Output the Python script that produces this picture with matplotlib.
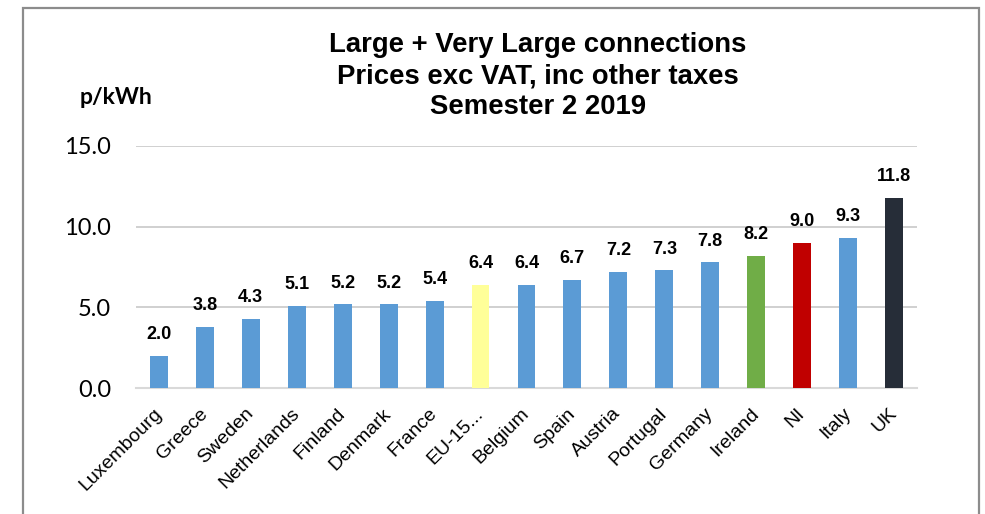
import matplotlib.pyplot as plt
from matplotlib.patches import Rectangle
from matplotlib.transforms import ScaledTranslation, blended_transform_factory

countries = ["Luxembourg", "Greece", "Sweden", "Netherlands", "Finland", "Denmark",
             "France", "EU-15...", "Belgium", "Spain", "Austria", "Portugal",
             "Germany", "Ireland", "NI", "Italy", "UK"]
prices = [2.0, 3.8, 4.3, 5.1, 5.2, 5.2, 5.4, 6.4, 6.4, 6.7, 7.2, 7.3, 7.8, 8.2, 9.0, 9.3, 11.8]
yticks = [0, 5, 10, 15]

blue = "#5B9BD5"
highlight = {"EU-15...": "#FFFF99", "Ireland": "#70AD47", "NI": "#C00000", "UK": "#262D38"}
colors = [highlight.get(c, blue) for c in countries]

fig = plt.figure(figsize=(9.85, 5.14), dpi=100)
ax = fig.add_axes([0.138, 0.245, 0.793, 0.471])

x = range(len(countries))
ax.bar(x, prices, width=0.39, color=colors, zorder=3)

for xi, v in zip(x, prices):
    ax.annotate(f"{v:.1f}", (xi, v), xytext=(0, 9), textcoords="offset points",
                ha="center", va="bottom", fontsize=13, fontweight="bold",
                family="Liberation Sans")

ax.set_ylim(0, 15)
ax.set_yticks(yticks)
ax.set_yticklabels([f"{t:.1f}" for t in yticks], family="Lato", fontsize=17)
ax.set_xlim(-0.5, len(countries) - 0.5)
ax.set_xticks(list(x))
ax.set_xticklabels([])

# country names, rotated, placed just under each bar
lbl_tr = blended_transform_factory(ax.transData, ax.transAxes) + \
    ScaledTranslation(-6 / 100, -17 / 100, fig.dpi_scale_trans)
for xi, name in zip(x, countries):
    ax.text(xi, 0, name, transform=lbl_tr, rotation=45, ha="right", va="top",
            rotation_mode="anchor", family="Liberation Sans", fontsize=14)

ax.tick_params(axis="both", length=0)
ax.tick_params(axis="y", pad=18)
ax.grid(axis="y", color="#C8C8C8", linewidth=1.2, zorder=0)
for s in ["top", "right", "left"]:
    ax.spines[s].set_visible(False)
ax.spines["bottom"].set_color("#D9D9D9")
ax.spines["bottom"].set_linewidth(1.5)

fig.text(0.546, 0.852, "Large + Very Large connections\nPrices exc VAT, inc other taxes\nSemester 2 2019",
         ha="center", va="center", fontsize=19.8, fontweight="bold", linespacing=1.24,
         family="Liberation Sans")
fig.text(0.118, 0.811, "p/kWh", ha="center", va="center", fontsize=16.5,
         fontweight="bold", family="Lato")

fig.patches.append(Rectangle((23 / 985, -0.1), (979 - 23) / 985, 1.1 - 8 / 514,
                             transform=fig.transFigure, fill=False,
                             edgecolor="#8C8C8C", linewidth=1.6))

fig.savefig("out.png", dpi=100)
